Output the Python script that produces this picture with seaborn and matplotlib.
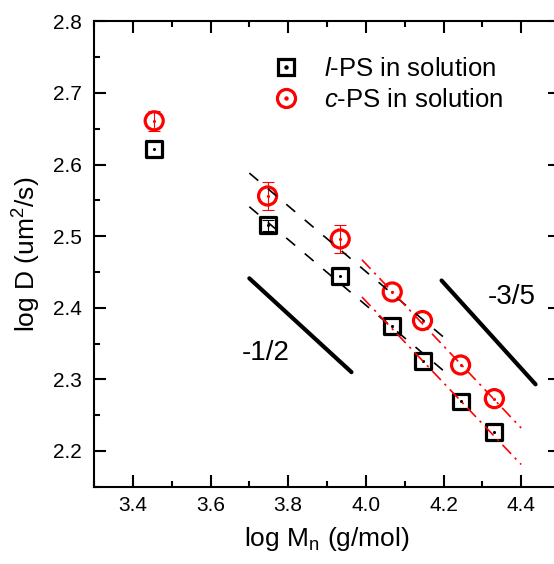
import matplotlib
matplotlib.use("Agg")
import matplotlib.pyplot as plt
from matplotlib.lines import Line2D
import seaborn as sns
import pandas as pd

# ---- data ----
log_mn = [3.455, 3.747, 3.934, 4.068, 4.146, 4.244, 4.331]
logd_linear = [2.621, 2.515, 2.444, 2.374, 2.326, 2.269, 2.226]
logd_cyclic = [2.661, 2.556, 2.496, 2.422, 2.382, 2.320, 2.273]
err_linear = [0.0, 0.008, 0.0, 0.0, 0.0, 0.0, 0.0]
err_cyclic = [0.014, 0.019, 0.019, 0.0, 0.0, 0.0, 0.0]

# fitted guide lines (endpoints)
fit_l_black_x = [3.70, 4.20]
fit_l_black_y = [2.541, 2.312]
fit_c_black_x = [3.70, 4.20]
fit_c_black_y = [2.588, 2.359]
fit_l_red_x = [3.99, 4.40]
fit_l_red_y = [2.415, 2.181]
fit_c_red_x = [3.99, 4.40]
fit_c_red_y = [2.467, 2.232]

# slope guide lines
slope_half_x = [3.70, 3.963]
slope_half_y = [2.441, 2.310]
slope_35_x = [4.195, 4.437]
slope_35_y = [2.438, 2.293]

legend_labels = [r"$\mathit{l}$-PS in solution", r"$\mathit{c}$-PS in solution"]
x_ticks = [3.4, 3.6, 3.8, 4.0, 4.2, 4.4]
y_ticks = [2.2, 2.3, 2.4, 2.5, 2.6, 2.7, 2.8]

sns.set_theme(style="ticks")
plt.rcParams["font.family"] = ["Liberation Sans", "DejaVu Sans"]
plt.rcParams["mathtext.fontset"] = "custom"
plt.rcParams["mathtext.rm"] = "Liberation Sans"
plt.rcParams["mathtext.it"] = "Liberation Sans:italic"
plt.rcParams["text.color"] = "black"
plt.rcParams["axes.labelcolor"] = "black"

df = pd.DataFrame({"x": log_mn, "yl": logd_linear, "yc": logd_cyclic})

fig = plt.figure(figsize=(5.54, 5.64), dpi=100)
ax = fig.add_axes([94 / 554, 1 - 486.7 / 564, (560 - 94) / 554, (486.7 - 21.3) / 564])

# error bars (only where visible)
def draw_err(ys, errs, color):
    xs = [x for x, e in zip(log_mn, errs) if e > 0]
    yv = [y for y, e in zip(ys, errs) if e > 0]
    ev = [e for e in errs if e > 0]
    ax.errorbar(xs, yv, yerr=ev, fmt="none", ecolor=color,
                elinewidth=0.8, capsize=4, capthick=0.8, zorder=2)

draw_err(logd_cyclic, err_cyclic, "red")
draw_err(logd_linear, err_linear, "black")

# markers
sns.scatterplot(data=df, x="x", y="yl", marker="s", s=11.5 ** 2, facecolor="none",
                edgecolor="black", linewidth=2.3, ax=ax, zorder=3)
sns.scatterplot(data=df, x="x", y="yc", marker="o", s=13 ** 2, facecolor="none",
                edgecolor="red", linewidth=2.3, ax=ax, zorder=3)
sns.scatterplot(data=df, x="x", y="yl", marker="o", s=5, color="black",
                linewidth=0, ax=ax, zorder=4)
sns.scatterplot(data=df, x="x", y="yc", marker="o", s=5, color="red",
                linewidth=0, ax=ax, zorder=4)

# fit lines
for xs, ys in [(fit_l_black_x, fit_l_black_y), (fit_c_black_x, fit_c_black_y)]:
    ln, = ax.plot(xs, ys, color="black", lw=1.2, zorder=5)
    ln.set_dashes((7, 7.5))
for xs, ys in [(fit_l_red_x, fit_l_red_y), (fit_c_red_x, fit_c_red_y)]:
    ln, = ax.plot(xs, ys, color="red", lw=1.2, zorder=6)
    ln.set_dashes((7.5, 3.2, 1.4, 3.2))

# slope guides
ax.plot(slope_half_x, slope_half_y, color="black", lw=3, solid_capstyle="round", zorder=5)
ax.plot(slope_35_x, slope_35_y, color="black", lw=3, solid_capstyle="round", zorder=5)
ax.text(3.743, 2.337, "-1/2", fontsize=20, ha="center", va="center")
ax.text(4.376, 2.415, "-3/5", fontsize=20, ha="center", va="center")

ax.set_xlim(3.3, 4.5)
ax.set_ylim(2.15, 2.8)
ax.set_xticks(x_ticks)
ax.set_yticks(y_ticks)
ax.set_xticklabels([f"{v:.1f}" for v in x_ticks])
ax.set_yticklabels([f"{v:.1f}" for v in y_ticks])
ax.set_xticks([3.3, 3.5, 3.7, 3.9, 4.1, 4.3, 4.5], minor=True)
ax.set_yticks([2.15, 2.25, 2.35, 2.45, 2.55, 2.65, 2.75], minor=True)
ax.tick_params(which="both", direction="in", top=True, right=True, width=1.5,
               colors="black", labelcolor="black", labelsize=15)
ax.tick_params(which="major", length=8.6)
ax.tick_params(which="minor", length=4.3)
ax.tick_params(axis="y", pad=9)
ax.tick_params(axis="x", pad=7)
for s in ax.spines.values():
    s.set_linewidth(1.5)
    s.set_color("black")

ax.set_xlabel(r"log M$_\mathrm{n}$ (g/mol)", fontsize=19, labelpad=7, color="black")
ax.set_ylabel(r"log D (um$^2$/s)", fontsize=19, labelpad=7, color="black")

h1 = (Line2D([], [], marker="s", ms=11.5, mfc="none", mec="black", mew=2.3, ls=""),
      Line2D([], [], marker="o", ms=2.2, color="black", ls=""))
h2 = (Line2D([], [], marker="o", ms=13, mfc="none", mec="red", mew=2.3, ls=""),
      Line2D([], [], marker="o", ms=2.2, color="red", ls=""))
leg = ax.legend([h1, h2], legend_labels, loc="upper left", bbox_to_anchor=(0.3706, 0.923),
                frameon=False, fontsize=18.5, handlelength=1.5, handletextpad=0.735,
                labelspacing=0.25, borderpad=0, borderaxespad=0)
for t in leg.get_texts():
    t.set_color("black")

fig.savefig("out.png", dpi=100)
